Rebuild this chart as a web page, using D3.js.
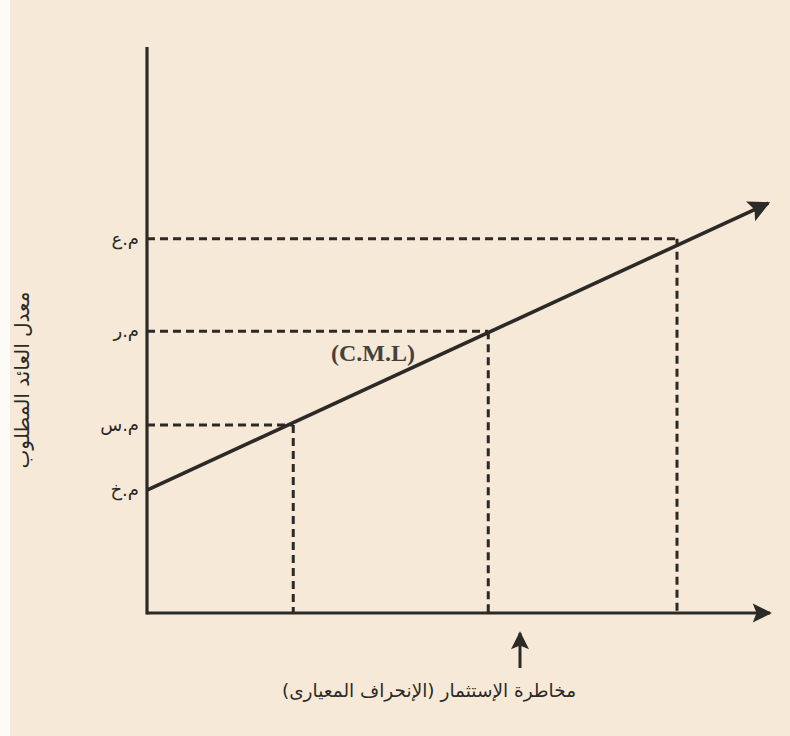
<!DOCTYPE html>
<html>
<head>
<meta charset="utf-8">
<script src="https://cdn.jsdelivr.net/npm/d3@7/dist/d3.min.js"></script>
<style>
  html, body { margin: 0; padding: 0; background: #ffffff; }
  svg { display: block; }
</style>
</head>
<body>
<svg id="chart" width="790" height="736"></svg>
<script>
// ---- data ----
const riskFree = 2.17;                       // م.خ
const portfolioRisk = [2.34, 5.46, 8.48];    // standard deviation of the three marked portfolios
const portfolioReturn = [3.32, 4.98, 6.61];  // their required returns
const tickLabels = ["م.خ", "م.س", "م.ر", "م.ع"];
const cmlEndRisk = 9.94;
const cmlEndReturn = 7.24;
const cmlLabel = "(C.M.L)";
const xTitle = "مخاطرة الإستثمار (الإنحراف المعيارى)";
const yTitle = "معدل العائد المطلوب";

// ---- layout ----
const svg = d3.select("#chart");
const W = 790, H = 736;
const ink = "#2b2a27";

svg.append("rect").attr("width", W).attr("height", H).attr("fill", "#f7e9d7");
svg.append("rect").attr("width", 10).attr("height", H).attr("fill", "#fdfbf8");

const x = d3.scaleLinear().domain([0, 10]).range([147, 772]);
const y = d3.scaleLinear().domain([0, 10]).range([613, 47]);

const defs = svg.append("defs");
defs.append("marker").attr("id", "arrow")
  .attr("viewBox", "0 0 10 10").attr("refX", 9).attr("refY", 5)
  .attr("markerWidth", 7.5).attr("markerHeight", 6).attr("markerUnits", "strokeWidth")
  .attr("orient", "auto")
  .append("path").attr("d", "M0,0 L10,5 L0,10 L2,5 Z").attr("fill", ink);

// dashed guides
const guides = svg.append("g").attr("stroke", ink).attr("stroke-width", 3)
  .attr("stroke-dasharray", "8,5").attr("fill", "none");
portfolioRisk.forEach((s, i) => {
  const r = portfolioReturn[i];
  guides.append("line").attr("x1", x(0)).attr("x2", x(s)).attr("y1", y(r)).attr("y2", y(r));
  guides.append("line").attr("x1", x(s)).attr("x2", x(s)).attr("y1", y(r)).attr("y2", y(0));
});

// axes
svg.append("line").attr("x1", x(0)).attr("x2", x(0)).attr("y1", y(0) + 1.5).attr("y2", y(10))
  .attr("stroke", ink).attr("stroke-width", 3.2);
svg.append("line").attr("x1", x(0)).attr("x2", x(10) - 2).attr("y1", y(0)).attr("y2", y(0))
  .attr("stroke", ink).attr("stroke-width", 3.2).attr("marker-end", "url(#arrow)");

// CML
svg.append("line")
  .attr("x1", x(0)).attr("y1", y(riskFree))
  .attr("x2", x(cmlEndRisk)).attr("y2", y(cmlEndReturn))
  .attr("stroke", ink).attr("stroke-width", 3.6).attr("marker-end", "url(#arrow)");

svg.append("text").attr("x", 373).attr("y", 361).attr("text-anchor", "middle")
  .attr("font-family", "Liberation Serif, DejaVu Serif, serif").attr("font-size", 24)
  .attr("font-weight", "bold")
  .attr("fill", "#45423d").text(cmlLabel);

// tick labels on the y axis
const tickVals = [riskFree].concat(portfolioReturn);
svg.append("g").selectAll("text").data(tickVals).join("text")
  .attr("x", 139).attr("y", d => y(d) + 6)
  .attr("text-anchor", "start")
  .attr("direction", "rtl")
  .attr("font-family", "DejaVu Sans, sans-serif").attr("font-size", 18)
  .attr("fill", ink)
  .text((d, i) => tickLabels[i]);

// titles
svg.append("text").attr("transform", "translate(29,380) rotate(-90)")
  .attr("text-anchor", "middle").attr("direction", "rtl")
  .attr("font-family", "DejaVu Sans, sans-serif").attr("font-size", 20)
  .attr("fill", ink).text(yTitle);

svg.append("text").attr("x", 429).attr("y", 697)
  .attr("text-anchor", "middle").attr("direction", "rtl")
  .attr("font-family", "DejaVu Sans, sans-serif").attr("font-size", 18.5)
  .attr("fill", ink).text(xTitle);

// upward pointer under the axis
svg.append("line").attr("x1", 520).attr("x2", 520).attr("y1", 668).attr("y2", 633)
  .attr("stroke", ink).attr("stroke-width", 3).attr("marker-end", "url(#arrow)");
</script>
</body>
</html>
